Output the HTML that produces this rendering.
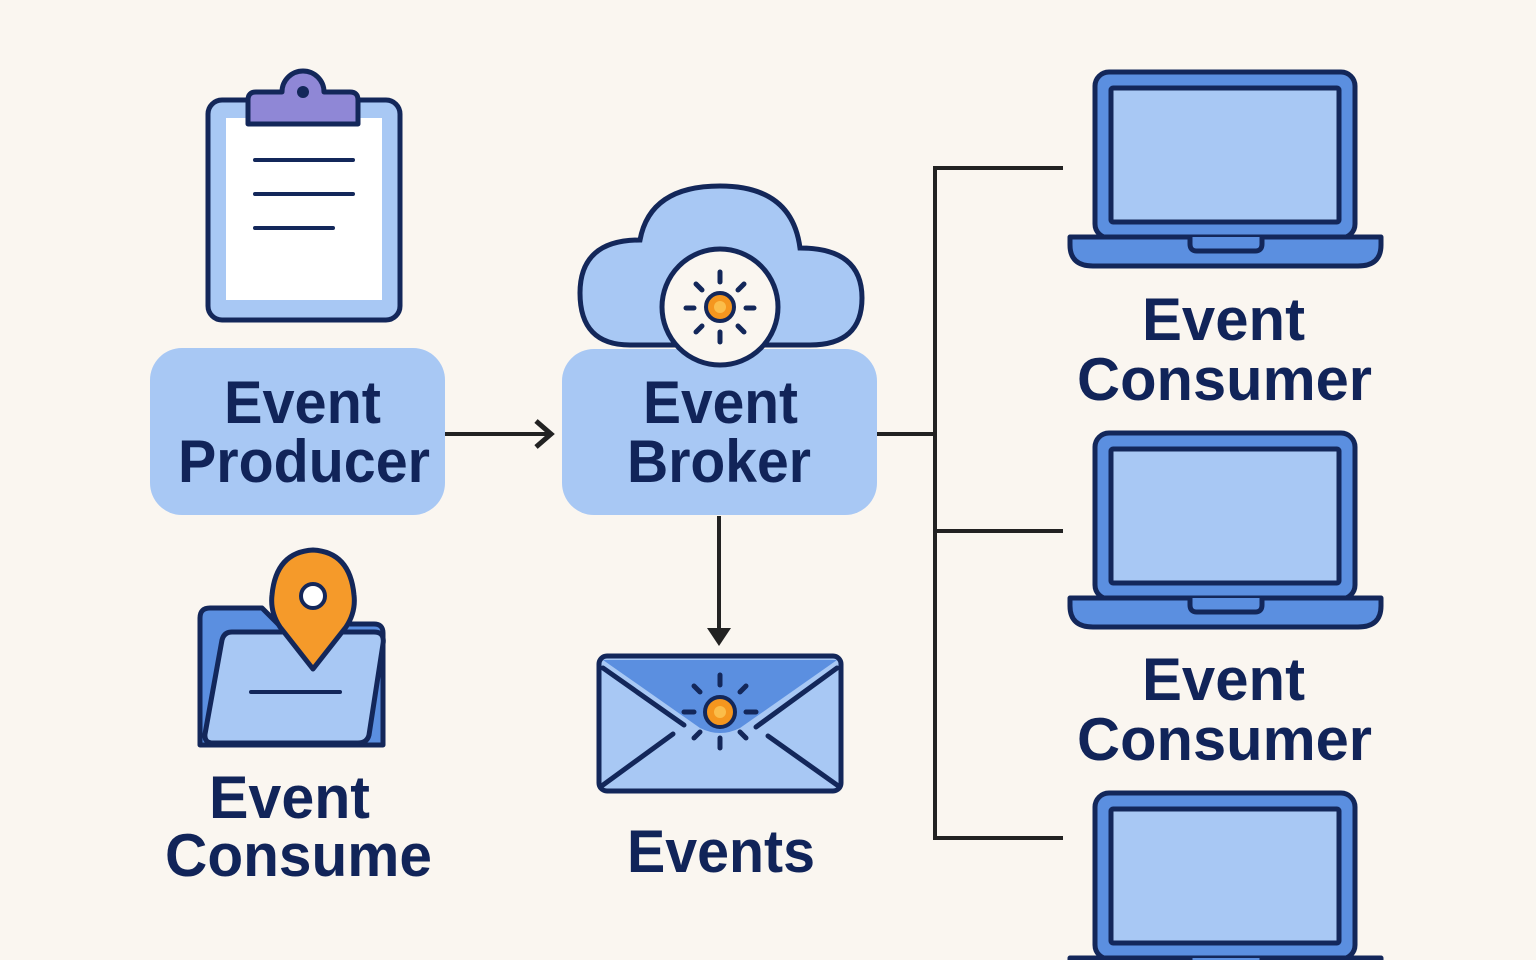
<!DOCTYPE html>
<html><head><meta charset="utf-8"><style>html,body{margin:0;padding:0;background:#faf6f0}svg{display:block}</style></head>
<body>
<svg width="1536" height="960" viewBox="0 0 1536 960" xmlns="http://www.w3.org/2000/svg">
<rect width="1536" height="960" fill="#faf6f0"/>
<defs>
<g id="laptop">
<rect x="1095" y="72" width="260" height="166" rx="14" fill="#5b8fe0" stroke="#13275a" stroke-width="5"/>
<rect x="1111" y="88" width="228" height="134" rx="2" fill="#a8c8f4" stroke="#13275a" stroke-width="5"/>
<path d="M1070 237 H1381 V245 Q1381 266 1358 266 H1093 Q1070 266 1070 245 Z" fill="#5b8fe0" stroke="#13275a" stroke-width="5" stroke-linejoin="round"/>
<path d="M1190 237 V244 Q1190 251 1197 251 H1255 Q1262 251 1262 244 V237" fill="#5b8fe0" stroke="#13275a" stroke-width="5"/>
</g>
</defs>
<g stroke="#222" stroke-width="4" fill="none">
<line x1="445" y1="434" x2="550" y2="434"/>
<polyline points="536,421 551,434 536,447" stroke-width="5"/>
<line x1="877" y1="434" x2="935" y2="434"/>
<line x1="935" y1="166" x2="935" y2="840"/>
<line x1="933" y1="168" x2="1063" y2="168"/>
<line x1="933" y1="531" x2="1063" y2="531"/>
<line x1="933" y1="838" x2="1063" y2="838"/>
<line x1="719" y1="516" x2="719" y2="640"/>
</g>
<path d="M707 628 L719 646 L731 628 Z" fill="#222"/>
<rect x="208" y="100" width="192" height="220" rx="14" fill="#a8c8f4" stroke="#13275a" stroke-width="5"/>
<rect x="226" y="118" width="156" height="182" fill="#fff"/>
<path d="M248 124 V100 Q248 92 256 92 H282 A21 21 0 0 1 324 92 H350 Q358 92 358 100 V124 Z" fill="#8f87d6" stroke="#13275a" stroke-width="5" stroke-linejoin="round"/>
<circle cx="303" cy="92" r="6" fill="#13275a"/>
<g stroke="#13275a" stroke-width="4" stroke-linecap="round">
<line x1="255" y1="160" x2="353" y2="160"/><line x1="255" y1="194" x2="353" y2="194"/><line x1="255" y1="228" x2="333" y2="228"/>
</g>
<rect x="150" y="348" width="295" height="167" rx="32" fill="#a8c8f4"/>
<path d="M640 240 Q650 186 720 186 Q792 186 800 248 Q862 248 862 298 Q862 345 810 345 H630 Q580 345 580 293 Q580 240 640 240 Z" fill="#a8c8f4" stroke="#13275a" stroke-width="5"/>
<rect x="562" y="349" width="315" height="166" rx="32" fill="#a8c8f4"/>
<circle cx="720" cy="307" r="58" fill="#faf6f0" stroke="#13275a" stroke-width="5"/>
<g stroke="#13275a" stroke-width="5" stroke-linecap="round">
<line x1="720" y1="272" x2="720" y2="282"/><line x1="720" y1="332" x2="720" y2="342"/>
<line x1="686" y1="308" x2="694" y2="308"/><line x1="746" y1="308" x2="754" y2="308"/>
<line x1="696" y1="284" x2="702" y2="290"/><line x1="738" y1="326" x2="744" y2="332"/>
<line x1="744" y1="284" x2="738" y2="290"/><line x1="702" y1="326" x2="696" y2="332"/>
</g>
<circle cx="720" cy="307" r="14" fill="#f5961e" stroke="#13275a" stroke-width="4"/>
<circle cx="720" cy="307" r="6" fill="#fbbd4a"/>
<path d="M200 745 V618 Q200 608 210 608 H262 L278 624 H374 Q383 624 383 633 V745 Z" fill="#5b8fe0" stroke="#13275a" stroke-width="5" stroke-linejoin="round"/>
<path d="M222 640 Q224 632 232 632 H374 Q385 632 383 644 L369 735 Q367 743 358 743 H213 Q204 743 205 734 Z" fill="#a8c8f4" stroke="#13275a" stroke-width="5" stroke-linejoin="round"/>
<line x1="251" y1="692" x2="340" y2="692" stroke="#13275a" stroke-width="4" stroke-linecap="round"/>
<path d="M313 669 L280 627 Q270 612 272 595 Q276 552 313 550 Q350 552 354 595 Q356 612 346 627 Z" fill="#f59a2a" stroke="#13275a" stroke-width="5" stroke-linejoin="round"/>
<circle cx="313" cy="596" r="12" fill="#fff" stroke="#13275a" stroke-width="4"/>
<rect x="599" y="656" width="242" height="135" rx="8" fill="#a8c8f4" stroke="#13275a" stroke-width="5"/>
<path d="M603 660 L700 728 Q720 738 740 728 L837 660 Z" fill="#5b8fe0"/>
<g stroke="#13275a" stroke-width="5" stroke-linecap="round" fill="none">
<line x1="603" y1="668" x2="684" y2="725"/><line x1="837" y1="668" x2="756" y2="727"/>
<line x1="603" y1="785" x2="673" y2="734"/><line x1="837" y1="785" x2="768" y2="736"/>
<line x1="720" y1="675" x2="720" y2="685"/><line x1="720" y1="738" x2="720" y2="748"/>
<line x1="684" y1="712" x2="694" y2="712"/><line x1="746" y1="712" x2="756" y2="712"/>
<line x1="694" y1="686" x2="700" y2="692"/><line x1="740" y1="732" x2="746" y2="738"/>
<line x1="746" y1="686" x2="740" y2="692"/><line x1="700" y1="732" x2="694" y2="738"/>
</g>
<circle cx="720" cy="712" r="15" fill="#f5961e" stroke="#13275a" stroke-width="4"/>
<circle cx="720" cy="712" r="6" fill="#fbbd4a"/>
<use href="#laptop"/>
<use href="#laptop" y="361"/>
<use href="#laptop" y="721"/>
<g font-family="Liberation Sans, sans-serif" font-weight="bold" font-size="60" fill="#112459">
<text x="224" y="423" textLength="157" lengthAdjust="spacingAndGlyphs">Event</text>
<text x="178" y="482" textLength="252" lengthAdjust="spacingAndGlyphs">Producer</text>
<text x="643" y="423" textLength="155" lengthAdjust="spacingAndGlyphs">Event</text>
<text x="627" y="482" textLength="184" lengthAdjust="spacingAndGlyphs">Broker</text>
<text x="1142" y="340" textLength="163" lengthAdjust="spacingAndGlyphs">Event</text>
<text x="1077" y="400" textLength="295" lengthAdjust="spacingAndGlyphs">Consumer</text>
<text x="1142" y="700" textLength="163" lengthAdjust="spacingAndGlyphs">Event</text>
<text x="1077" y="760" textLength="295" lengthAdjust="spacingAndGlyphs">Consumer</text>
<text x="209" y="818" textLength="161" lengthAdjust="spacingAndGlyphs">Event</text>
<text x="165" y="876" textLength="267" lengthAdjust="spacingAndGlyphs">Consume</text>
<text x="627" y="872" textLength="188" lengthAdjust="spacingAndGlyphs">Events</text>
</g>
</svg>
</body></html>
